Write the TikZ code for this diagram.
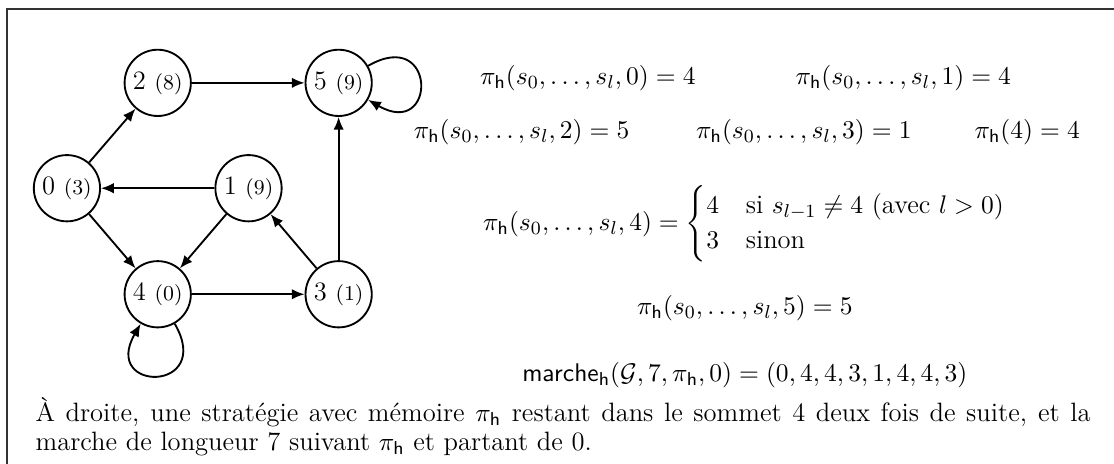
\documentclass[tikz,border=0pt]{standalone}
\usepackage{amsmath}
\usetikzlibrary{arrows.meta}
\newcommand{\pih}{\pi_{\mathsf{h}}}
\newcommand{\taille}{\fontsize{11.4}{12.45}\selectfont}
\newcommand{\petit}{\fontsize{9.1}{10.5}\selectfont}

\begin{document}
\begin{tikzpicture}[
  every node/.style={font=\taille},
  sommet/.style={circle,draw,thick,minimum size=1cm,inner sep=0pt},
  arr/.style={-{Latex[length=5.5pt,width=4.5pt]},thick},
  formule/.style={inner sep=0pt}
]
\useasboundingbox (0,0) rectangle (16.81,-7.00);
\draw[thick,black!80] (0.10,-7.00) -- (0.10,-0.14) -- (16.81,-0.14);

% le graphe
\node[sommet] (s0) at (1.01,-2.84) {0 {\petit(3)}};
\node[sommet] (s1) at (3.75,-2.84) {1 {\petit(9)}};
\node[sommet] (s2) at (2.38,-1.25) {2 {\petit(8)}};
\node[sommet] (s3) at (5.11,-4.44) {3 {\petit(1)}};
\node[sommet] (s4) at (2.38,-4.44) {4 {\petit(0)}};
\node[sommet] (s5) at (5.11,-1.25) {5 {\petit(9)}};

\draw[arr] (s0) -- (s2);
\draw[arr] (s0) -- (s4);
\draw[arr] (s1) -- (s0);
\draw[arr] (s1) -- (s4);
\draw[arr] (s2) -- (s5);
\draw[arr] (s4) -- (s3);
\draw[arr] (s3) -- (s1);
\draw[arr] (s3) -- (s5);
\draw[arr] (s5) to[out=30,in=-30,looseness=6] (s5);
\draw[arr] (s4) to[out=-60,in=-120,looseness=6] (s4);

% la strategie
\node[formule] (f0) at (8.87,-1.18) {$\pih(s_0,\dots,s_l,0) = 4$};
\node[formule] (f1) at (13.63,-1.18) {$\pih(s_0,\dots,s_l,1) = 4$};
\node[formule] (f2) at (7.87,-1.99) {$\pih(s_0,\dots,s_l,2) = 5$};
\node[formule] (f3) at (12.13,-1.99) {$\pih(s_0,\dots,s_l,3) = 1$};
\node[formule] (f4bis) at (15.50,-1.99) {$\pih(4) = 4$};
\node[formule] (f4) at (11.24,-3.38)
  {$\pih(s_0,\dots,s_l,4) = \begin{cases} 4 & \text{si } s_{l-1} \neq 4 \text{ (avec } l > 0)\\ 3 & \text{sinon}\end{cases}$};
\node[formule] (f5) at (11.24,-4.65) {$\pih(s_0,\dots,s_l,5) = 5$};
\node[formule] (marche) at (11.24,-5.66)
  {$\mathsf{marche}_{\mathsf{h}}(\mathcal{G},7,\pih,0) = (0,4,4,3,1,4,4,3)$};

\node[formule,text width=15.92cm,align=justify,anchor=north west] (legende) at (0.53,-5.99)
  {À droite, une stratégie avec mémoire $\pih$ restant dans le sommet 4 deux fois de suite, et la marche de longueur 7 suivant $\pih$ et partant de 0.};
\end{tikzpicture}
\end{document}
